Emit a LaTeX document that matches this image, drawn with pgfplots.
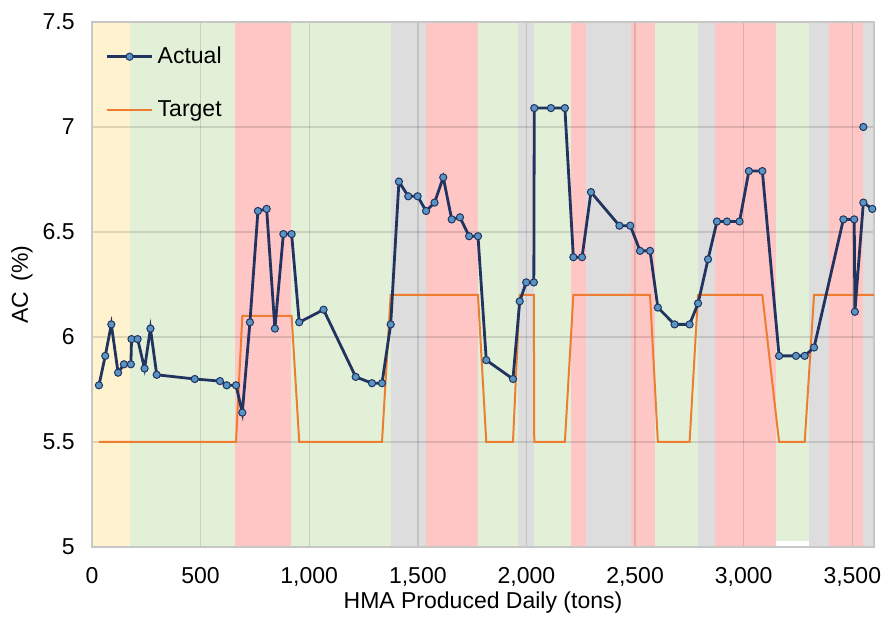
\documentclass[border=0pt]{standalone}
\usepackage{fontspec}
\setmainfont{Liberation Sans}
\usepackage{pgfplots}
\pgfplotsset{compat=1.18}
\definecolor{bandY}{RGB}{255,242,206}
\definecolor{bandG}{RGB}{226,240,216}
\definecolor{bandR}{RGB}{255,198,198}
\definecolor{bandK}{RGB}{221,221,221}
\definecolor{actline}{RGB}{33,52,96}
\definecolor{actfill}{RGB}{88,148,196}
\definecolor{tgtline}{RGB}{237,125,49}
\begin{document}
\begin{tikzpicture}[font=\fontsize{11.5}{13.8}\selectfont]
\begin{axis}[
  set layers,
  scale only axis,
  width=391pt, height=262.5pt,
  xmin=0, xmax=3600, ymin=5, ymax=7.5,
  xtick={0,500,...,3500},
  ytick={5,5.5,...,7.5},
  /pgf/number format/assume math mode=true,
  /pgf/number format/1000 sep={,},
  major tick length=0pt,
  grid=major,
  grid style={black, opacity=0.12, line width=0.7pt},
  axis line style={black!22, line width=0.7pt},
  yticklabel style={inner sep=0pt, xshift=-8.5pt},
  xticklabel style={inner sep=0pt, yshift=-9.8pt},
  xlabel={HMA Produced Daily (tons)},
  ylabel={AC\,\ (\%)},
  xlabel style={at={(axis description cs:0.5,-0.1067)}, anchor=center, inner sep=0pt},
  ylabel style={at={(axis description cs:-0.0895,0.5)}, anchor=center, inner sep=0pt},
  reverse legend,
  legend image code/.code={\draw[mark repeat=2,mark phase=2,#1] plot coordinates {(0cm,0cm) (0.4cm,0cm) (0.8cm,0cm)};},
  legend style={draw=none, fill=none, inner sep=0pt, row sep=13pt,
    at={(rel axis cs:0.0166,0.961)}, anchor=north west},
  legend cell align=left,
]
\coordinate (sw) at (rel axis cs:0,0);
\coordinate (ne) at (rel axis cs:1,1);
% background bands
\addplot[fill=bandY, draw=none, forget plot, on layer=axis background] coordinates {(0,5) (0,7.5) (176,7.5) (176,5)};
\addplot[fill=bandG, draw=none, forget plot, on layer=axis background] coordinates {(176,5) (176,7.5) (660,7.5) (660,5)};
\addplot[fill=bandR, draw=none, forget plot, on layer=axis background] coordinates {(660,5) (660,7.5) (916,7.5) (916,5)};
\addplot[fill=bandG, draw=none, forget plot, on layer=axis background] coordinates {(916,5) (916,7.5) (1375,7.5) (1375,5)};
\addplot[fill=bandK, draw=none, forget plot, on layer=axis background] coordinates {(1375,5) (1375,7.5) (1539,7.5) (1539,5)};
\addplot[fill=bandR, draw=none, forget plot, on layer=axis background] coordinates {(1539,5) (1539,7.5) (1778,7.5) (1778,5)};
\addplot[fill=bandG, draw=none, forget plot, on layer=axis background] coordinates {(1778,5) (1778,7.5) (1963,7.5) (1963,5)};
\addplot[fill=bandK, draw=none, forget plot, on layer=axis background] coordinates {(1963,5) (1963,7.5) (2035,7.5) (2035,5)};
\addplot[fill=bandG, draw=none, forget plot, on layer=axis background] coordinates {(2035,5) (2035,7.5) (2203,7.5) (2203,5)};
\addplot[fill=bandR, draw=none, forget plot, on layer=axis background] coordinates {(2203,5) (2203,7.5) (2274,7.5) (2274,5)};
\addplot[fill=bandK, draw=none, forget plot, on layer=axis background] coordinates {(2274,5) (2274,7.5) (2483,7.5) (2483,5)};
\addplot[fill=bandR, draw=none, forget plot, on layer=axis background] coordinates {(2483,5) (2483,7.5) (2590,7.5) (2590,5)};
\addplot[fill=bandG, draw=none, forget plot, on layer=axis background] coordinates {(2590,5) (2590,7.5) (2790,7.5) (2790,5)};
\addplot[fill=bandK, draw=none, forget plot, on layer=axis background] coordinates {(2790,5) (2790,7.5) (2869,7.5) (2869,5)};
\addplot[fill=bandR, draw=none, forget plot, on layer=axis background] coordinates {(2869,5) (2869,7.5) (3150,7.5) (3150,5)};
\addplot[fill=bandG, draw=none, forget plot, on layer=axis background] coordinates {(3150,5.03) (3150,7.5) (3300,7.5) (3300,5.03)};
\addplot[fill=bandK, draw=none, forget plot, on layer=axis background] coordinates {(3300,5) (3300,7.5) (3394,7.5) (3394,5)};
\addplot[fill=bandR, draw=none, forget plot, on layer=axis background] coordinates {(3394,5) (3394,7.5) (3551,7.5) (3551,5)};
\addplot[fill=bandK, draw=none, forget plot, on layer=axis background] coordinates {(3551,5) (3551,7.5) (3600,7.5) (3600,5)};
% target
\addplot[tgtline, line width=1pt, mark=none] coordinates {
(32,5.5) (663,5.5) (692,6.10) (919,6.10) (954,5.5) (1335,5.5) (1375,6.2)
(1777,6.2) (1815,5.5) (1938,5.5) (1969,6.2) (2034,6.2) (2036,5.5) (2177,5.5)
(2216,6.2) (2569,6.2) (2605,5.5) (2751,5.5) (2790,6.2) (3086,6.2) (3163,5.5)
(3281,5.5) (3324,6.2) (3600,6.2)};
\addlegendentry{Target}
% actual
\addplot[actline, line width=1.4pt, mark=*, mark size=1.8pt,
  mark options={fill=actfill, draw=actline, line width=0.5pt}] coordinates {
(32,5.77) (61,5.91) (89,6.06) (120,5.83) (147,5.87) (179,5.87) (182,5.99)
(210,5.99) (242,5.85) (269,6.04) (298,5.82) (473,5.80) (589,5.79) (620,5.77)
(663,5.77) (692,5.64) (727,6.07) (764,6.60) (804,6.61) (842,6.04) (881,6.49)
(919,6.49) (954,6.07) (1066,6.13) (1214,5.81) (1289,5.78) (1335,5.78)
(1375,6.06) (1413,6.74) (1456,6.67) (1499,6.67) (1538,6.60) (1577,6.64)
(1617,6.76) (1656,6.56) (1694,6.57) (1736,6.48) (1777,6.48) (1815,5.89)
(1938,5.80) (1969,6.17) (1999,6.26) (2034,6.26) (2036,7.09) (2113,7.09)
(2177,7.09) (2216,6.38) (2256,6.38) (2297,6.69) (2428,6.53) (2478,6.53)
(2523,6.41) (2569,6.41) (2605,6.14) (2682,6.06) (2751,6.06) (2790,6.16)
(2836,6.37) (2877,6.55) (2923,6.55) (2981,6.55) (3024,6.79) (3086,6.79)
(3163,5.91) (3241,5.91) (3281,5.91) (3324,5.95) (3459,6.56) (3509,6.56)
(3512,6.12) (3551,6.64) (3592,6.61)};
\addlegendentry{Actual}
\addplot[only marks, mark=*, mark size=1.8pt,
  mark options={fill=actfill, draw=actline, line width=0.5pt}, forget plot]
  coordinates {(3551,7.00)};
\end{axis}
\path (sw) ++(-46pt,-36pt);
\path (ne) ++(5pt,11pt);
\end{tikzpicture}
\end{document}
